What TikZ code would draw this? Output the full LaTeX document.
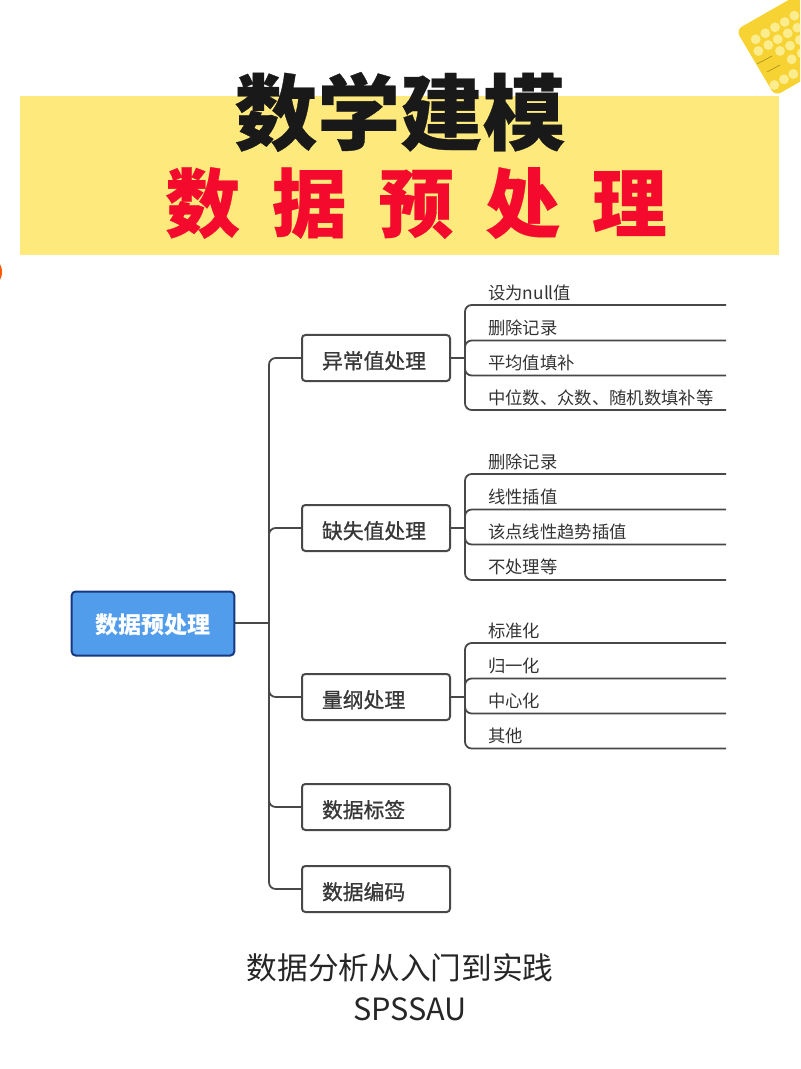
\documentclass[tikz,border=0pt]{standalone}
\usepackage{fontspec}
\setmainfont{Noto Sans CJK SC}
\newfontfamily\cjkheavy[BoldFeatures={FakeBold=0.4}]{Noto Sans CJK SC}
\newfontfamily\cjkmed[FakeBold=1]{Noto Sans CJK SC}
\newcommand{\dropA}[1]{\raisebox{-8pt}[0pt][0pt]{#1}}
\newcommand{\dropB}[1]{\raisebox{-7.2pt}[0pt][0pt]{#1}}
\definecolor{lineC}{HTML}{484848}
\definecolor{band}{HTML}{FEEA7C}
\definecolor{kbd}{HTML}{F6D232}
\definecolor{keyC}{HTML}{FBEC8E}
\definecolor{rootF}{HTML}{529CEC}
\definecolor{rootD}{HTML}{17387F}
\definecolor{titleRed}{HTML}{F40A2C}
\tikzset{
  x=0.75pt,y=-0.75pt,
  conn/.style={draw=lineC,line width=1.35pt,rounded corners=5pt},
  groupbox/.style={draw=lineC,line width=1.5pt,fill=white,rounded corners=2.5pt,text width=81pt,align=left,minimum height=34.5pt,inner xsep=15pt,inner ysep=0pt,text=black!78,font=\cjkmed\fontsize{15.6}{18}\selectfont},
  rootbox/.style={draw=rootD,line width=1.5pt,fill=rootF,rounded corners=3pt,minimum width=122pt,minimum height=48pt,inner sep=0pt,text=white,font=\bfseries\fontsize{17.3}{20}\selectfont},
  leaf/.style={anchor=west,inner sep=0pt,text=black!80,font=\fontsize{13}{15}\selectfont},
  bigtitle/.style={inner sep=0pt,font=\cjkheavy\bfseries\fontsize{62}{70}\selectfont},
  redtitle/.style={inner sep=0pt,font=\cjkheavy\bfseries\fontsize{56}{64}\selectfont},
  foot/.style={inner sep=0pt,text=black!85,font=\fontsize{23}{27}\selectfont}
}
\begin{document}
\begin{tikzpicture}
\useasboundingbox (0,0) rectangle (800,1069);
\begin{scope}
\clip (0,0) rectangle (800,1069);
\fill[band] (20,96) rectangle (779,255);
\fill[orange!70!red] (-3,272) ellipse (3.8pt and 7pt);
% keyboard
\fill[kbd,rounded corners=5pt] (736,30) -- (775,96) -- (845,56) -- (806,-10) -- cycle;
\foreach \kx/\ky in {755.7/39.3,765.3/33.3,775/27.3,784.7/22,794.3/15.7,
  758.3/51,768.3/45,777.7/39.3,787.7/33.3,797.3/27.7,
  780/51,790/45.7,799.7/40,
  791.7/59.3,801.7/53.3,
  774.3/85,784/79.3,793.3/74}{
  \fill[keyC] (\kx,\ky) circle (3.7pt);
}
\draw[kbd!70!black,line width=0.5pt] (757,64) -- (772,56) (767,72) -- (780,65);
\end{scope}

\node[bigtitle,text=black!90] (title) at (400,112) {数学建模};
\node[redtitle,text=titleRed] (subtitle) at (416,203) {数\hspace{24pt}据\hspace{24pt}预\hspace{24pt}处\hspace{24pt}理};

\node[rootbox] (root) at (153,623.5) {\dropB{数据预处理}};
\node[groupbox] (a) at (376,358) {\dropA{异常值处理}};
\node[groupbox] (b) at (376,528) {\dropA{缺失值处理}};
\node[groupbox] (c) at (376,697) {\dropA{量纲处理}};
\node[groupbox] (d) at (376,807) {\dropA{数据标签}};
\node[groupbox] (e) at (376,889) {\dropA{数据编码}};

% junctions
\coordinate (trunk) at (269,623);
\coordinate (ja) at (465,358);
\coordinate (jb) at (465,528);
\coordinate (jc) at (465,697);

\draw[conn] (root.east|-trunk) -- (trunk);
\draw[conn] (trunk) |- (a.west);
\draw[conn] (trunk) |- (b.west);
\draw[conn] (trunk) |- (c.west);
\draw[conn] (trunk) |- (d.west);
\draw[conn] (trunk) |- (e.west);

% leaf line ends
\foreach \g/\ya/\yb/\yc/\yd in {a/305/340.5/375.5/410,b/474/509.5/544.5/580,c/643/678.5/713.5/748.5}{
  \coordinate (\g1) at (726,\ya);
  \coordinate (\g2) at (726,\yb);
  \coordinate (\g3) at (726,\yc);
  \coordinate (\g4) at (726,\yd);
  \draw[conn] (\g.east) -- (j\g);
  \draw[conn] (j\g) |- (\g1);
  \draw[conn] (j\g) |- (\g2);
  \draw[conn] (j\g) |- (\g3);
  \draw[conn] (j\g) |- (\g4);
}

\node[leaf] (a1t) at (488,293) {设为null值};
\node[leaf] (a2t) at (488,328) {删除记录};
\node[leaf] (a3t) at (488,363) {平均值填补};
\node[leaf] (a4t) at (488,398) {中位数、众数、随机数填补等};
\node[leaf] (b1t) at (488,462) {删除记录};
\node[leaf] (b2t) at (488,497) {线性插值};
\node[leaf] (b3t) at (488,532) {该点线性趋势插值};
\node[leaf] (b4t) at (488,567) {不处理等};
\node[leaf] (c1t) at (488,631) {标准化};
\node[leaf] (c2t) at (488,666) {归一化};
\node[leaf] (c3t) at (488,701) {中心化};
\node[leaf] (c4t) at (488,736) {其他};

\node[foot] (f1) at (400,968) {数据分析从入门到实践};
\node[foot] (f2) at (410,1009) {SPSSAU};
\end{tikzpicture}
\end{document}
